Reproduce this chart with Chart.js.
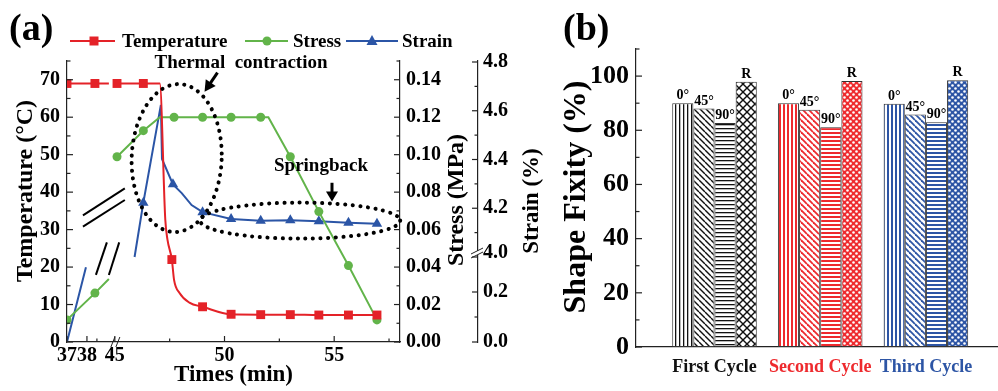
<!DOCTYPE html>
<html><head><meta charset="utf-8">
<script src="https://cdn.jsdelivr.net/npm/chart.js@4/dist/chart.umd.min.js"></script>
<style>
html,body{margin:0;padding:0;background:#fff;width:998px;height:391px;overflow:hidden;}
#ca{position:absolute;left:0;top:0;}
#cb{position:absolute;left:555px;top:0;}
</style></head><body>
<canvas id="ca" width="560" height="391"></canvas>
<canvas id="cb" width="443" height="391"></canvas>
<script>
const FONT = "'Liberation Serif', 'Times New Roman', serif";
const AX = '#222';
const RED = '#e42228', GREEN = '#62b44a', BLUE = '#2b55a6';

// ---------------- Panel (a) data ----------------
// times in minutes (x axis broken between ~39 and 45 min); null = gap at the break
const tempTimes  = [37.0, 38.4, 39.1, 42.0, 45.1, 46.3, 47.05, 47.3, 47.4, 47.6, 47.7, 47.95, 48.4, 49.0, 50.3, 51.65, 53.0, 54.3, 55.65, 56.95];
const tempValues = [69, 69, 69, null, 69, 69, 69, 32.7, 27.3, 22.0, 16.6, 13.1, 10.5, 9.4, 7.4, 7.3, 7.3, 7.2, 7.2, 7.2];
const tempMarks  = [1, 1, 0, 0, 1, 1, 0, 0, 0, 1, 0, 0, 0, 1, 1, 1, 1, 1, 1, 1];

const stressTimes  = [37.0, 38.4, 39.1, 42.0, 45.1, 46.3, 47.05, 47.7, 49.0, 50.3, 51.65, 52.0, 53.0, 54.3, 55.65, 56.95];
const stressValues = [0.0118, 0.0261, 0.0336, null, 0.0989, 0.1128, 0.12, 0.12, 0.12, 0.12, 0.12, 0.12, 0.0989, 0.0696, 0.0408, 0.0118];
const stressMarks  = [1, 1, 0, 0, 1, 1, 0, 1, 1, 1, 1, 0, 1, 1, 1, 1];

const strainTimes  = [37.0, 37.95, 42.0, 45.9, 46.3, 47.1, 47.15, 47.65, 48.05, 48.5, 49.0, 50.3, 51.65, 53.0, 54.3, 55.65, 56.95];
const strainValues = [0.0, 0.299, null, 4.0, 4.223, 4.624, 4.402, 4.298, 4.262, 4.213, 4.184, 4.156, 4.149, 4.151, 4.147, 4.141, 4.136];
const strainMarks  = [0, 0, 0, 0, 1, 0, 0, 1, 0, 0, 1, 1, 1, 1, 1, 1, 1];

const timeTicks   = [37, 38, 45, 50, 55];
const timeMinor   = [38.5, 47.5, 52.5, 57.5];
const tempTicks   = [0, 10, 20, 30, 40, 50, 60, 70];
const tempMinor   = [5, 15, 25, 35, 45, 55, 65, 75];
const stressTicks = [0, 0.02, 0.04, 0.06, 0.08, 0.10, 0.12, 0.14];
const stressMinor = [0.01, 0.03, 0.05, 0.07, 0.09, 0.11, 0.13, 0.15];
const strainTicks = [0.0, 0.2, 4.0, 4.2, 4.4, 4.6, 4.8];
const strainMinor = [0.1, 4.1, 4.3, 4.5, 4.7];

// broken-axis transforms
const tx = t => t < 42 ? (t - 37) * 0.909 : 2.18 + (t - 45);
const ts = s => s < 2 ? s : 0.34 + (s - 4) * 0.975;

function pts(times, vals, f) {
  return times.map((t, i) => ({x: tx(t), y: vals[i] === null ? null : f(vals[i])}));
}

function line(ctx, x1, y1, x2, y2) { ctx.beginPath(); ctx.moveTo(x1, y1); ctx.lineTo(x2, y2); ctx.stroke(); }

function marker(ctx, style, x, y, color) {
  ctx.fillStyle = color;
  ctx.beginPath();
  if (style === 'rect') ctx.rect(x - 4.5, y - 4.5, 9, 9);
  else if (style === 'circle') ctx.arc(x, y, 4.5, 0, Math.PI * 2);
  else { ctx.moveTo(x, y - 6); ctx.lineTo(x + 5.5, y + 4); ctx.lineTo(x - 5.5, y + 4); ctx.closePath(); }
  ctx.fill();
}

function arrowHead(ctx, x, y, ang, len, wid) {
  ctx.save(); ctx.translate(x, y); ctx.rotate(ang);
  ctx.beginPath(); ctx.moveTo(0, 0); ctx.lineTo(-len, wid / 2); ctx.lineTo(-len, -wid / 2); ctx.closePath();
  ctx.fill(); ctx.restore();
}

function vText(ctx, text, x, y) {
  ctx.save(); ctx.translate(x, y); ctx.rotate(-Math.PI / 2); ctx.fillText(text, 0, 0); ctx.restore();
}

const panelA = {
  id: 'panelA',
  afterDatasetsDraw(chart) {
    const ctx = chart.ctx;
    const xs = chart.scales.x, yT = chart.scales.yT, yS = chart.scales.yS, yE = chart.scales.yE;
    ctx.save();
    ctx.strokeStyle = AX; ctx.lineWidth = 1.2;
    // inward ticks
    timeTicks.forEach(t => { const x = xs.getPixelForValue(tx(t)); line(ctx, x, xs.top, x, xs.top - 6); });
    timeMinor.forEach(t => { const x = xs.getPixelForValue(tx(t)); line(ctx, x, xs.top, x, xs.top - 3.5); });
    tempTicks.forEach(v => { const y = yT.getPixelForValue(v); line(ctx, yT.right, y, yT.right + 6, y); });
    tempMinor.forEach(v => { const y = yT.getPixelForValue(v); line(ctx, yT.right, y, yT.right + 3.5, y); });
    stressTicks.forEach(v => { const y = yS.getPixelForValue(v); line(ctx, yS.left, y, yS.left - 6, y); });
    stressMinor.forEach(v => { const y = yS.getPixelForValue(v); line(ctx, yS.left, y, yS.left - 3.5, y); });
    strainTicks.forEach(v => { const y = yE.getPixelForValue(ts(v)); line(ctx, yE.left, y, yE.left - 6, y); });
    strainMinor.forEach(v => { const y = yE.getPixelForValue(ts(v)); line(ctx, yE.left, y, yE.left - 3.5, y); });

    // axis break marks
    ctx.lineWidth = 1;
    const bx = xs.getPixelForValue(tx(39.3));
    line(ctx, bx - 2, xs.top + 5, bx + 2, xs.top - 5);
    line(ctx, bx + 3, xs.top + 5, bx + 7, xs.top - 5);
    const by = yE.getPixelForValue(0.356);
    ctx.fillStyle = '#fff'; ctx.fillRect(yE.left - 2, by - 2, 4, 4);
    line(ctx, yE.left - 7, by + 1, yE.left + 5, by - 5);
    line(ctx, yE.left - 7, by + 5, yE.left + 5, by - 1);

    // break marks inside the plot
    ctx.strokeStyle = '#000'; ctx.lineWidth = 2;
    const P = (t, v) => [xs.getPixelForValue(tx(t)), yT.getPixelForValue(v)];
    let a, b;
    a = P(37.8, 33.8); b = P(39.9, 41.0); line(ctx, a[0], a[1], b[0], b[1]);
    a = P(37.8, 30.8); b = P(39.9, 37.9); line(ctx, a[0], a[1], b[0], b[1]);
    a = P(38.45, 17.9); b = P(39.0, 26.6); line(ctx, a[0], a[1], b[0], b[1]);
    a = P(39.1, 17.9); b = P(45.2, 26.6); line(ctx, a[0], a[1], b[0], b[1]);

    // dotted ellipses
    ctx.setLineDash([0.1, 7.5]); ctx.lineCap = 'round'; ctx.lineWidth = 4;
    let c = P(47.82, 49.1);
    ctx.beginPath(); ctx.ellipse(c[0], c[1], 45, 74, 0.04, 0, Math.PI * 2); ctx.stroke();
    c = P(53.45, 32.4);
    ctx.beginPath(); ctx.ellipse(c[0], c[1], 100, 18, 0, 0, Math.PI * 2); ctx.stroke();
    ctx.setLineDash([]); ctx.lineCap = 'butt';

    // arrows
    ctx.fillStyle = '#000'; ctx.lineWidth = 3;
    a = P(49.68, 71.9); b = P(49.09, 66.8);
    const ang = Math.atan2(b[1] - a[1], b[0] - a[0]);
    line(ctx, a[0], a[1], b[0] - 8 * Math.cos(ang), b[1] - 8 * Math.sin(ang));
    arrowHead(ctx, b[0], b[1], ang, 11, 12);
    a = P(54.9, 42.5); b = P(54.9, 37.5);
    line(ctx, a[0], a[1], b[0], b[1] - 8);
    arrowHead(ctx, b[0], b[1], Math.PI / 2, 10, 12);

    // annotation texts
    ctx.fillStyle = '#000'; ctx.textAlign = 'center'; ctx.textBaseline = 'middle';
    ctx.font = `bold 19px ${FONT}`;
    ctx.fillText('Thermal  contraction', 241, 63);
    ctx.fillText('Springback', 321, 166);

    // legend
    const ly = 41;
    const items = [
      {c: RED, s: 'rect', x1: 70, x2: 115, m: 94, t: 'Temperature', tx: 122},
      {c: GREEN, s: 'circle', x1: 245, x2: 288, m: 267, t: 'Stress', tx: 293},
      {c: BLUE, s: 'tri', x1: 346, x2: 398, m: 372, t: 'Strain', tx: 402}
    ];
    ctx.lineWidth = 2; ctx.textAlign = 'left';
    ctx.font = `bold 19px ${FONT}`;
    items.forEach(it => {
      ctx.strokeStyle = it.c; line(ctx, it.x1, ly, it.x2, ly);
      marker(ctx, it.s, it.m, ly, it.c);
      ctx.fillStyle = '#000'; ctx.fillText(it.t, it.tx, ly + 1);
    });

    // panel letter
    ctx.font = `bold 38px ${FONT}`; ctx.textAlign = 'left';
    ctx.fillText('(a)', 9, 30);

    // axis titles (reading bottom to top)
    ctx.textAlign = 'center';
    ctx.font = `bold 24px ${FONT}`;
    vText(ctx, 'Temperature (°C)', 26, 191);
    vText(ctx, 'Stress (MPa)', 457, 200);
    ctx.font = `bold 23px ${FONT}`;
    vText(ctx, 'Strain (%)', 532, 201);
    ctx.restore();
  }
};

const tickFont = {family: FONT, size: 20, weight: 'bold'};
const zeroPad = s => { s.paddingTop = 0; s.paddingBottom = 0; s.paddingLeft = 0; s.paddingRight = 0; };

new Chart(document.getElementById('ca'), {
  type: 'line',
  data: {
    datasets: [
      {label: 'Temperature', yAxisID: 'yT', data: pts(tempTimes, tempValues, v => v),
       borderColor: RED, backgroundColor: RED, borderWidth: 2, pointStyle: 'rect',
       pointRadius: tempMarks.map(m => m ? 6.3 : 0), pointBorderWidth: 0,
       cubicInterpolationMode: 'monotone', spanGaps: false},
      {label: 'Stress', yAxisID: 'yS', data: pts(stressTimes, stressValues, v => v),
       borderColor: GREEN, backgroundColor: GREEN, borderWidth: 2, pointStyle: 'circle',
       pointRadius: stressMarks.map(m => m ? 4.5 : 0), pointBorderWidth: 0, tension: 0, spanGaps: false},
      {label: 'Strain', yAxisID: 'yE', data: pts(strainTimes, strainValues, ts),
       borderColor: BLUE, backgroundColor: BLUE, borderWidth: 2, pointStyle: 'triangle',
       pointRadius: strainMarks.map(m => m ? 6 : 0), pointBorderWidth: 0, tension: 0, spanGaps: false}
    ]
  },
  options: {
    responsive: false, animation: false, events: [],
    layout: {padding: {top: 61, left: 0, right: 0, bottom: 0}},
    plugins: {legend: {display: false}, tooltip: {enabled: false}},
    scales: {
      x: {type: 'linear', position: 'bottom', min: 0, max: tx(58),
        grid: {display: false, drawTicks: false}, border: {display: true, color: AX, width: 1.2},
        afterBuildTicks: s => { s.ticks = timeTicks.map(t => ({value: tx(t)})); },
        ticks: {autoSkip: false, maxRotation: 0, padding: 2, color: '#000', font: tickFont,
          callback: (v, i) => String(timeTicks[i])},
        title: {display: true, text: 'Times (min)', color: '#000', font: {family: FONT, size: 23, weight: 'bold'}, padding: {top: 0, bottom: 2}},
        afterFit: s => { s.height = 49; zeroPad(s); }},
      yT: {type: 'linear', position: 'left', min: 0, max: 75,
        grid: {display: false, drawTicks: false}, border: {display: true, color: AX, width: 1.2},
        afterBuildTicks: s => { s.ticks = tempTicks.map(v => ({value: v})); },
        ticks: {padding: 7, color: '#000', font: tickFont, callback: v => String(v)},
        afterFit: s => { s.width = 67; zeroPad(s); }},
      yS: {type: 'linear', position: 'right', min: 0, max: 0.15,
        grid: {display: false, drawTicks: false}, border: {display: true, color: AX, width: 1.2},
        afterBuildTicks: s => { s.ticks = stressTicks.map(v => ({value: v})); },
        ticks: {padding: 6, color: '#000', font: tickFont, callback: v => v.toFixed(2)},
        afterFit: s => { s.width = 78; zeroPad(s); }},
      yE: {type: 'linear', position: 'right', min: 0, max: 1.124,
        grid: {display: false, drawTicks: false}, border: {display: true, color: AX, width: 1.2},
        afterBuildTicks: s => { s.ticks = strainTicks.map(v => ({value: v === 4.0 ? 0.356 : ts(v)})); },
        ticks: {padding: 5, color: '#000', font: tickFont, callback: (v, i) => strainTicks[i].toFixed(1)},
        afterFit: s => { s.width = 82; zeroPad(s); }}
    }
  },
  plugins: [panelA]
});

// ---------------- Panel (b) data ----------------
const cycles = ['First Cycle', 'Second Cycle', 'Third Cycle'];
const cycleColors = ['#111111', '#ee2a2e', '#2d55a5'];
const orientations = ['0°', '45°', '90°', 'R'];
const fix0  = [90.0, 90.0, 89.8];
const fix45 = [88.0, 87.6, 85.8];
const fix90 = [82.7, 81.1, 83.0];
const fixR  = [97.9, 98.2, 98.5];
const fixTicks = [0, 20, 40, 60, 80, 100];
const fixMinor = [10, 30, 50, 70, 90, 110];

function makePattern(kind, color) {
  const n = kind === 'v' || kind === 'h' ? 4 : (kind === 'x' ? 8 : 6);
  const c = document.createElement('canvas'); c.width = n; c.height = n;
  const g = c.getContext('2d');
  const black = color === '#111111';
  g.fillStyle = '#fff'; g.fillRect(0, 0, n, n);
  g.fillStyle = color; g.strokeStyle = color;
  if (kind === 'v') g.fillRect(0, 0, black ? 1.3 : 2, n);
  else if (kind === 'h') g.fillRect(0, 0, n, black ? 1.3 : 2);
  else if (kind === 'd') {
    g.lineWidth = black ? 1.4 : 1.8;
    for (let k = -1; k <= 1; k++) { g.beginPath(); g.moveTo(0, k * n); g.lineTo(n, n + k * n); g.stroke(); }
  } else if (kind === 'x') {
    g.lineWidth = 1.4;
    for (let k = -1; k <= 1; k++) { g.beginPath(); g.moveTo(0, k * n); g.lineTo(n, n + k * n); g.stroke(); }
    for (let k = 0; k <= 2; k++) { g.beginPath(); g.moveTo(0, k * n); g.lineTo(n, k * n - n); g.stroke(); }
  } else if (kind === 'o') {
    g.fillRect(0, 0, n, n);
    g.fillStyle = '#fff';
    [[1.5, 1.5], [4.5, 4.5]].forEach(([x, y]) => { g.beginPath(); g.arc(x, y, 1.3, 0, Math.PI * 2); g.fill(); });
  }
  return g.createPattern(c, 'repeat');
}

const kindsFor = (k, ci) => ['v', 'd', 'h', ci === 0 ? 'x' : 'o'][k];

const panelB = {
  id: 'panelB',
  afterDatasetsDraw(chart) {
    const ctx = chart.ctx;
    const ys = chart.scales.y;
    ctx.save();
    ctx.strokeStyle = AX; ctx.lineWidth = 1.2;
    fixTicks.forEach(v => { const y = ys.getPixelForValue(v); line(ctx, ys.right, y, ys.right + 6, y); });
    fixMinor.forEach(v => { const y = ys.getPixelForValue(v); line(ctx, ys.right, y, ys.right + 3.5, y); });
    ctx.fillStyle = '#000'; ctx.textAlign = 'center'; ctx.textBaseline = 'alphabetic';
    ctx.font = `bold 14px ${FONT}`;
    chart.data.datasets.forEach((ds, k) => {
      chart.getDatasetMeta(k).data.forEach(bar => {
        ctx.fillText(ds.label, bar.x, bar.y - 4);
      });
    });
    ctx.font = `bold 38px ${FONT}`; ctx.textAlign = 'left'; ctx.textBaseline = 'middle';
    ctx.fillText('(b)', 8, 30);
    ctx.textAlign = 'center';
    ctx.font = `bold 32px ${FONT}`;
    vText(ctx, 'Shape Fixity (%)', 22, 197);
    ctx.restore();
  }
};

new Chart(document.getElementById('cb'), {
  type: 'bar',
  data: {
    datasets: [fix0, fix45, fix90, fixR].map((arr, k) => ({
      label: orientations[k],
      data: arr.map((v, i) => ({x: i + 1, y: v})),
      backgroundColor: cycleColors.map((c, ci) => makePattern(kindsFor(k, ci), c)),
      borderColor: '#333', borderWidth: 1, borderSkipped: false,
      categoryPercentage: 0.8, barPercentage: 1
    }))
  },
  options: {
    responsive: false, animation: false, events: [],
    layout: {padding: {top: 49, left: 0, right: 0, bottom: 0}},
    plugins: {legend: {display: false}, tooltip: {enabled: false}},
    scales: {
      x: {type: 'linear', min: 0.2573, max: 3.682, offset: false,
        grid: {display: false, drawTicks: false}, border: {display: true, color: AX, width: 1.2},
        afterBuildTicks: s => { s.ticks = cycles.map((c, i) => ({value: i + 1})); },
        ticks: {autoSkip: false, maxRotation: 0, padding: 10, font: {family: FONT, size: 18, weight: 'bold'},
          color: c => cycleColors[c.index] || '#000', callback: (v, i) => cycles[i]},
        afterFit: s => { s.height = 44; zeroPad(s); }},
      y: {type: 'linear', min: 0, max: 110,
        grid: {display: false, drawTicks: false}, border: {display: true, color: AX, width: 1.2},
        afterBuildTicks: s => { s.ticks = fixTicks.map(v => ({value: v})); },
        ticks: {padding: 7, color: '#000', font: {family: FONT, size: 26, weight: 'bold'}, callback: v => String(v)},
        afterFit: s => { s.width = 81; zeroPad(s); }}
    }
  },
  plugins: [panelB]
});
</script>
</body></html>
